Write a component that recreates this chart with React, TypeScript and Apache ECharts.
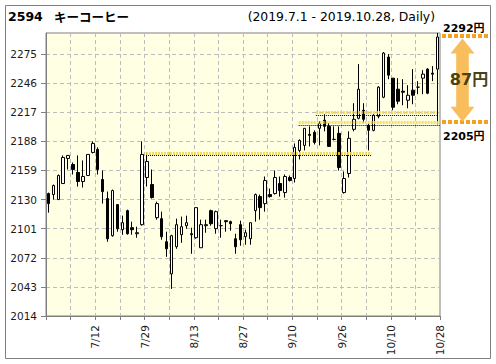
import React, { useEffect, useRef } from "react";
import * as echarts from "echarts";

const dates = [
  "7/1","7/2","7/3","7/4","7/5","7/8","7/9","7/10","7/11","7/12","7/16","7/17","7/18","7/19","7/22","7/23","7/24","7/25","7/26","7/29","7/30","7/31",
  "8/1","8/2","8/5","8/6","8/7","8/8","8/9","8/13","8/14","8/15","8/16","8/19","8/20","8/21","8/22","8/23","8/26","8/27","8/28","8/29","8/30",
  "9/2","9/3","9/4","9/5","9/6","9/9","9/10","9/11","9/12","9/13","9/17","9/18","9/19","9/20","9/24","9/25","9/26","9/27","9/30",
  "10/1","10/2","10/3","10/4","10/7","10/8","10/9","10/10","10/11","10/15","10/16","10/17","10/18","10/21","10/23","10/24","10/25","10/28",
];

const opens = [
  2136,2135,2130,2146,2171,2165,2157,2148,2154,2177,2180,2150,2131,2094,2125,2100,2119,2102,2096,2105,
  2152,2145,2112,2111,2088,2056,2083,2095,2104,2096,2092,2082,2104,2119,2101,2104,2109,2108,2091,2105,
  2093,2091,2119,2133,2126,2135,2136,2146,2137,2152,2151,2179,2184,2195,2197,2201,2209,2203,2190,2196,
  2137,2156,2200,2211,2219,2204,2199,2213,2232,2272,2251,2240,2238,2229,2239,2242,2251,2260,2256,2260,
];
const closes = [
  2126,2144,2154,2172,2174,2160,2148,2153,2175,2186,2160,2138,2091,2139,2101,2107,2096,2100,2097,2175,
  2168,2132,2126,2093,2081,2094,2105,2103,2107,2095,2122,2105,2105,2106,2118,2104,2108,2106,2083,2090,
  2097,2107,2135,2122,2149,2133,2152,2139,2153,2149,2182,2189,2201,2194,2187,2206,2203,2183,2190,2162,
  2151,2191,2210,2240,2210,2199,2214,2242,2276,2254,2222,2228,2237,2234,2234,2242,2255,2236,2255,2292,
];
const lows = [
  2117,2130,2130,2146,2160,2155,2143,2142,2154,2176,2155,2126,2088,2093,2098,2095,2095,2095,2092,2104,
  2143,2131,2110,2090,2073,2041,2081,2087,2101,2076,2091,2082,2097,2104,2096,2092,2098,2099,2076,2084,
  2085,2085,2108,2110,2118,2132,2135,2133,2132,2148,2147,2170,2179,2183,2185,2184,2198,2183,2189,2159,
  2136,2152,2198,2210,2207,2179,2198,2211,2231,2250,2219,2225,2224,2221,2225,2235,2235,2235,2248,2205,
];
const highs = [
  2137,2145,2155,2174,2174,2167,2174,2169,2175,2188,2182,2159,2138,2140,2125,2114,2120,2108,2103,2188,
  2177,2160,2128,2118,2098,2095,2111,2113,2114,2102,2122,2110,2110,2120,2119,2110,2109,2109,2096,2109,
  2100,2107,2136,2135,2153,2141,2159,2153,2155,2154,2186,2190,2201,2203,2199,2208,2215,2206,2203,2203,
  2158,2198,2226,2265,2226,2206,2215,2243,2277,2275,2251,2251,2250,2244,2260,2248,2259,2261,2263,2296,
];

// price levels (value) drawn as dotted support/resistance lines, with their start/end position on the day axis
const levelValues = [2175, 2205, 2215];
const levelStarts = [20.3, 51.3, 54.8];
const levelEnds = [66.1, 80, 79.3];

const yMin = 2014;
const yMax = 2296;
const yStep = 29;

const titleCode = "2594";
const titleName = "キーコーヒー";
const titleRange = "(2019.7.1 - 2019.10.28, Daily)";

const supportLevel = levelValues[1];

export default function App() {
  const ref = useRef<HTMLDivElement>(null);
  useEffect(() => {
    if (!ref.current) return;
    const chart = echarts.init(ref.current, undefined, { renderer: "svg" });
    const candles = dates.map((_, i) => [opens[i], closes[i], lows[i], highs[i]]);
    const markData: any[] = [];
    levelValues.forEach((v, k) => {
      markData.push([
        { coord: [levelStarts[k], v + 1.6], lineStyle: { color: "#F3D748", width: 3, type: [2, 1], opacity: 0.85 } },
        { coord: [levelEnds[k], v + 1.6] },
      ]);
      markData.push([
        { coord: [levelStarts[k], v - 1.2], lineStyle: { color: "#000", width: 1, type: [1, 1] } },
        { coord: [levelEnds[k], v - 1.2] },
      ]);
    });
    const axisFont = { fontFamily: "DejaVu Sans", fontSize: 10.5, color: "#1a1a1a" };
    chart.setOption({
      animation: false,
      backgroundColor: "#ffffff",
      grid: {
        left: 46, right: 56, top: 33, bottom: 48,
        show: true, backgroundColor: "#FFFFE4", borderColor: "#808080", borderWidth: 1,
      },
      xAxis: [
        { type: "category", data: dates, boundaryGap: true, show: false },
        {
          type: "value", min: 0, max: dates.length, interval: 5, position: "bottom",
          axisLine: { show: true, lineStyle: { color: "#808080" } },
          axisTick: { show: true, length: 4, lineStyle: { color: "#808080" } },
          axisLabel: {
            ...axisFont, rotate: 90, margin: 9, showMinLabel: true, showMaxLabel: true,
            formatter: (v: number) => (v > 0 && v % 10 === 0 ? dates[v - 1] : ""),
          },
          splitLine: { show: true, lineStyle: { color: "#bdbdbd", type: [4, 3] } },
        },
      ],
      yAxis: {
        type: "value", min: yMin, max: yMax, interval: yStep,
        axisLine: { show: true, lineStyle: { color: "#808080" } },
        axisTick: { show: true, length: 5, lineStyle: { color: "#808080" } },
        axisLabel: { ...axisFont, margin: 9, showMaxLabel: false, formatter: (v: number) => String(v) },
        splitLine: { show: true, lineStyle: { color: "#bdbdbd", type: [4, 3] } },
      },
      series: [
        {
          type: "candlestick", xAxisIndex: 0, yAxisIndex: 0, data: candles, barWidth: 3,
          itemStyle: {
            color: "#ffffff", color0: "#000000", borderColor: "#000000", borderColor0: "#000000",
            borderColorDoji: "#000000", borderWidth: 1,
          },
        },
        {
          type: "line", xAxisIndex: 1, yAxisIndex: 0, data: [], symbol: "none",
          markLine: { silent: true, symbol: ["none", "none"], label: { show: false }, data: markData },
        },
      ],
    });

    const last = dates.length - 1;
    const topVal = closes[last];
    const yTop = chart.convertToPixel({ yAxisIndex: 0 }, topVal) as number;
    const yBot = chart.convertToPixel({ yAxisIndex: 0 }, supportLevel) as number;
    const cx = 462.5;
    const t = yTop + 1.5;
    const b = yBot - 2.5;
    const hh = 15, hw = 12, sw = 6.3;
    const orange = "#F5A01E";
    chart.setOption({
      graphic: [
        { type: "rect", shape: { x: 5.5, y: 5.5, width: 485, height: 353 }, style: { fill: "none", stroke: "#808080", lineWidth: 1 } },
        { type: "text", x: 8, y: 16, style: { text: titleCode, font: "bold 12.5px 'DejaVu Sans'", fill: "#000", verticalAlign: "middle" } },
        { type: "text", x: 54, y: 16, style: { text: titleName, font: "bold 12.5px 'Noto Sans CJK JP'", fill: "#000", verticalAlign: "middle" } },
        { type: "text", x: 435, y: 16, style: { text: titleRange, font: "12.4px 'DejaVu Sans'", fill: "#000", align: "right", verticalAlign: "middle" } },
        { type: "line", shape: { x1: 442, y1: yTop - 1, x2: 488, y2: yTop - 1 }, style: { stroke: orange, lineWidth: 4, lineDash: [4, 2] } },
        { type: "line", shape: { x1: 442, y1: yBot - 2.3, x2: 488, y2: yBot - 2.3 }, style: { stroke: orange, lineWidth: 4, lineDash: [4, 2] } },
        {
          type: "polygon",
          shape: {
            points: [
              [cx, t], [cx + hw, t + hh], [cx + sw, t + hh], [cx + sw, b - hh], [cx + hw, b - hh],
              [cx, b], [cx - hw, b - hh], [cx - sw, b - hh], [cx - sw, t + hh], [cx - hw, t + hh],
            ],
          },
          style: { fill: "#F9BE5C" },
        },
        { type: "text", x: 443, y: yTop - 8.5, style: { text: `${topVal}円`, font: "bold 11px 'DejaVu Sans', 'Noto Sans CJK JP'", fill: "#000", verticalAlign: "middle" } },
        { type: "text", x: 443, y: yBot + 12.5, style: { text: `${supportLevel}円`, font: "bold 11px 'DejaVu Sans', 'Noto Sans CJK JP'", fill: "#000", verticalAlign: "middle" } },
        { type: "text", x: 469, y: (yTop + yBot) / 2 - 1, style: { text: `${topVal - supportLevel}円`, font: "bold 16px 'DejaVu Sans', 'Noto Sans CJK JP'", fill: "#4a4210", align: "center", verticalAlign: "middle" } },
      ],
    });
    return () => chart.dispose();
  }, []);
  return <div ref={ref} style={{ position: "absolute", left: 0, top: 0, width: 496, height: 364 }} />;
}
